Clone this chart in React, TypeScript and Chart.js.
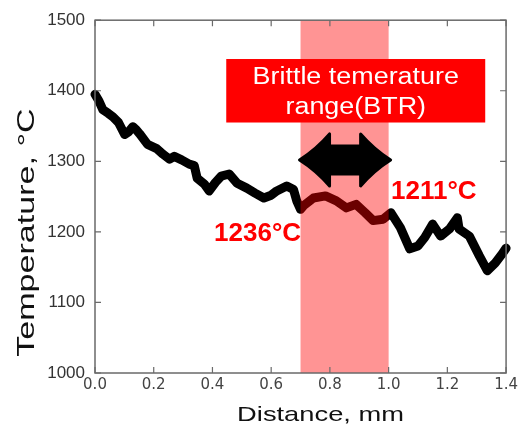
import React, { useEffect, useRef } from "react";
import { Chart, registerables } from "chart.js";

Chart.register(...registerables);

// ---- data ----
const distance = [0, 0.014, 0.027, 0.045, 0.061, 0.08, 0.101, 0.115, 0.129, 0.14, 0.152, 0.179, 0.21, 0.232, 0.254, 0.27, 0.295, 0.321, 0.338, 0.348, 0.372, 0.389, 0.41, 0.43, 0.457, 0.484, 0.517, 0.545, 0.575, 0.6, 0.619, 0.653, 0.676, 0.687, 0.7, 0.71, 0.744, 0.785, 0.822, 0.856, 0.889, 0.92, 0.947, 0.981, 1.008, 1.04, 1.072, 1.1, 1.123, 1.15, 1.177, 1.207, 1.234, 1.24, 1.275, 1.309, 1.336, 1.363, 1.387, 1.4];
const temperature = [1395, 1385, 1373, 1368, 1363, 1355, 1338, 1342, 1349, 1345, 1339, 1324, 1318, 1310, 1303, 1307, 1302, 1296, 1294, 1276, 1268, 1258, 1270, 1279, 1282, 1269, 1262, 1255, 1248, 1252, 1258, 1265, 1260, 1244, 1232, 1237, 1248, 1251, 1244, 1234, 1239, 1227, 1216, 1218, 1227, 1206, 1176, 1180, 1192, 1211, 1194, 1204, 1220, 1204, 1194, 1166, 1145, 1156, 1169, 1177];
const xTicks = [0, 0.2, 0.4, 0.6, 0.8, 1.0, 1.2, 1.4];
const yTicks = [1000, 1100, 1200, 1300, 1400, 1500];
const btrRange = [0.7, 1.0];
const btrTitleLines = ["Brittle temerature", "range(BTR)"];
const btrBoxX = [0.447, 1.329];
const btrBoxY = [1445, 1355];
const arrowY = 1302;
const labelHigh = { text: "1236°C", x: 0.702, y: 1187 };
const labelLow = { text: "1211°C", x: 1.008, y: 1246 };
const xTitle = "Distance, mm";
const yTitle = "Temperature, °C";

function stretchedText(ctx: CanvasRenderingContext2D, text: string, x: number, y: number, font: string, sx: number, color: string, align: CanvasTextAlign, rot = 0) {
  ctx.save();
  ctx.translate(x, y);
  if (rot) ctx.rotate(rot);
  ctx.scale(sx, 1);
  ctx.font = font;
  ctx.fillStyle = color;
  ctx.textAlign = align;
  ctx.textBaseline = "alphabetic";
  ctx.fillText(text, 0, 0);
  ctx.restore();
}

const overlay = {
  id: "overlay",
  afterDatasetsDraw(chart: any) {
    const { ctx, chartArea: a, scales } = chart;
    const x = scales.x, y = scales.y;
    ctx.save();
    // BTR band
    const bx1 = x.getPixelForValue(btrRange[0]);
    const bx2 = x.getPixelForValue(btrRange[1]);
    ctx.fillStyle = "rgba(255,0,0,0.42)";
    ctx.fillRect(bx1, a.top, bx2 - bx1, a.bottom - a.top);

    // frame
    ctx.strokeStyle = "#6a6a6a";
    ctx.lineWidth = 1.5;
    ctx.strokeRect(a.left, a.top, a.right - a.left, a.bottom - a.top);
    // inward ticks
    ctx.lineWidth = 1.2;
    ctx.beginPath();
    const tl = 6;
    xTicks.forEach((v) => {
      const px = x.getPixelForValue(v);
      ctx.moveTo(px, a.bottom); ctx.lineTo(px, a.bottom - tl);
      ctx.moveTo(px, a.top); ctx.lineTo(px, a.top + tl);
    });
    yTicks.forEach((v) => {
      const py = y.getPixelForValue(v);
      ctx.moveTo(a.left, py); ctx.lineTo(a.left + tl, py);
      ctx.moveTo(a.right, py); ctx.lineTo(a.right - tl, py);
    });
    ctx.stroke();

    // arrow
    const cy = y.getPixelForValue(arrowY);
    const x1 = bx1 - 1, x2 = bx2 + 2;
    const hl = 30, hh = 26, sh = 14;
    ctx.beginPath();
    ctx.moveTo(x1, cy);
    ctx.quadraticCurveTo(x1 + hl * 0.55, cy - hh * 0.4, x1 + hl, cy - hh);
    ctx.lineTo(x1 + hl, cy - sh);
    ctx.lineTo(x2 - hl, cy - sh);
    ctx.lineTo(x2 - hl, cy - hh);
    ctx.quadraticCurveTo(x2 - hl * 0.55, cy - hh * 0.4, x2, cy);
    ctx.quadraticCurveTo(x2 - hl * 0.55, cy + hh * 0.4, x2 - hl, cy + hh);
    ctx.lineTo(x2 - hl, cy + sh);
    ctx.lineTo(x1 + hl, cy + sh);
    ctx.lineTo(x1 + hl, cy + hh);
    ctx.quadraticCurveTo(x1 + hl * 0.55, cy + hh * 0.4, x1, cy);
    ctx.closePath();
    ctx.fillStyle = "#000";
    ctx.strokeStyle = "#000";
    ctx.lineJoin = "round";
    ctx.lineWidth = 3;
    ctx.fill();
    ctx.stroke();

    // BTR box
    const rx1 = x.getPixelForValue(btrBoxX[0]);
    const rx2 = x.getPixelForValue(btrBoxX[1]);
    const ry1 = y.getPixelForValue(btrBoxY[0]);
    const ry2 = y.getPixelForValue(btrBoxY[1]);
    ctx.fillStyle = "#ff0000";
    ctx.fillRect(rx1, ry1, rx2 - rx1, ry2 - ry1);
    const cx = (rx1 + rx2) / 2;
    stretchedText(ctx, btrTitleLines[0], cx, ry1 + 25, "23px 'Liberation Sans', Arial, sans-serif", 1.17, "#ffffff", "center");
    stretchedText(ctx, btrTitleLines[1], cx, ry1 + 55, "23px 'Liberation Sans', Arial, sans-serif", 1.17, "#ffffff", "center");

    // temperature labels
    ctx.font = "bold 26px 'Liberation Sans', Arial, sans-serif";
    ctx.fillStyle = "#ff0000";
    ctx.textBaseline = "alphabetic";
    ctx.textAlign = "right";
    ctx.fillText(labelHigh.text, x.getPixelForValue(labelHigh.x), y.getPixelForValue(labelHigh.y));
    ctx.textAlign = "left";
    ctx.fillText(labelLow.text, x.getPixelForValue(labelLow.x), y.getPixelForValue(labelLow.y));

    // axis titles
    stretchedText(ctx, xTitle, (a.left + a.right) / 2 + 20, 421, "21px 'Liberation Sans', Arial, sans-serif", 1.3, "#111", "center");
    stretchedText(ctx, yTitle, 34, (a.top + a.bottom) / 2 + 36, "24px 'Liberation Sans', Arial, sans-serif", 1.42, "#111", "center", -Math.PI / 2);
    ctx.restore();
  },
};

export default function App() {
  const ref = useRef<HTMLCanvasElement>(null);
  useEffect(() => {
    if (!ref.current) return;
    const chart = new Chart(ref.current, {
      type: "line",
      data: {
        datasets: [
          {
            data: distance.map((d, i) => ({ x: d, y: temperature[i] })),
            borderColor: "#000",
            borderWidth: 9,
            pointRadius: 0,
            tension: 0,
            borderJoinStyle: "round",
            borderCapStyle: "round",
            clip: 5,
          } as any,
        ],
      },
      options: {
        animation: false,
        responsive: false,
        layout: { padding: { top: 18, right: 12, left: 0, bottom: 0 } },
        plugins: { legend: { display: false }, tooltip: { enabled: false } },
        scales: {
          x: {
            type: "linear",
            min: 0,
            max: 1.4,
            afterBuildTicks: (s: any) => { s.ticks = xTicks.map((v) => ({ value: v })); },
            afterFit: (s: any) => { s.height = 63; },
            grid: { display: false, drawTicks: false },
            border: { display: false },
            ticks: {
              padding: 3,
              color: "#444",
              font: { family: "'DejaVu Sans', sans-serif", size: 15 },
              callback: (v: any) => Number(v).toFixed(1),
            },
          },
          y: {
            type: "linear",
            min: 1000,
            max: 1500,
            afterBuildTicks: (s: any) => { s.ticks = yTicks.map((v) => ({ value: v })); },
            afterFit: (s: any) => { s.width = 95; },
            grid: { display: false, drawTicks: false },
            border: { display: false },
            ticks: {
              padding: 10,
              color: "#333",
              font: { family: "'Liberation Sans', Arial, sans-serif", size: 17 },
              callback: (v: any) => String(v),
            },
          },
        },
      },
      plugins: [overlay],
    });
    return () => chart.destroy();
  }, []);
  return (
    <div style={{ position: "fixed", left: 0, top: 0, width: 521, height: 436, background: "#fff" }}>
      <canvas ref={ref} width={521} height={436} />
    </div>
  );
}
